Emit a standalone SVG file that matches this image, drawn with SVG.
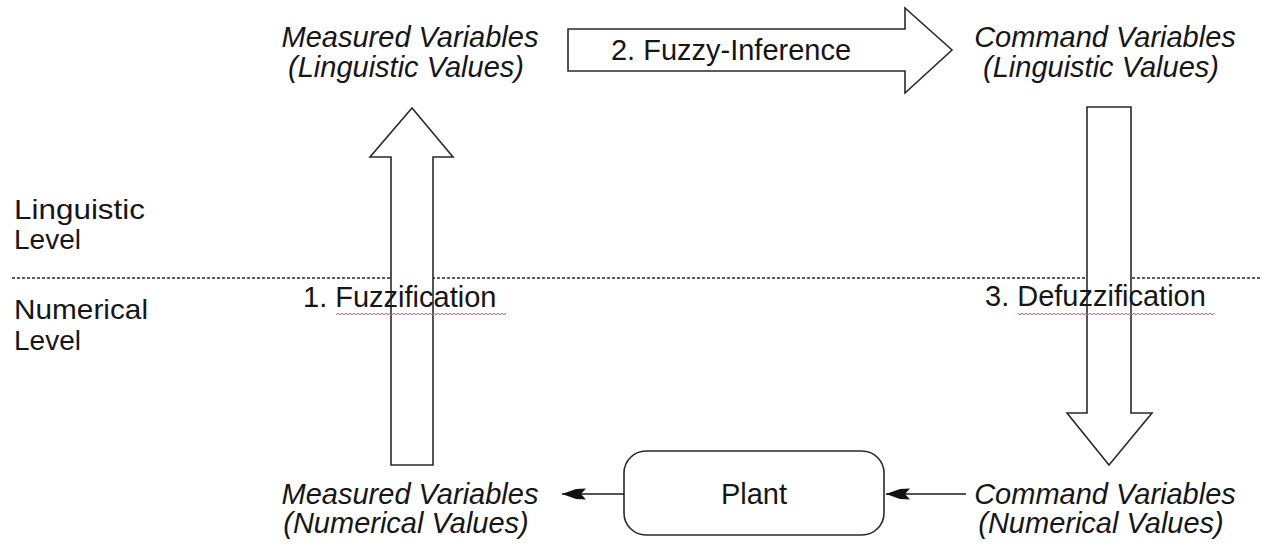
<svg xmlns="http://www.w3.org/2000/svg" width="1265" height="548" viewBox="0 0 1265 548">
<style>
  text { font-family: "Liberation Sans", Arial, sans-serif; fill: #161616; font-size: 29px; }
  .it { font-style: italic; }
  .mid { text-anchor: middle; }
  .lvl { font-size: 28px; }
  .block { fill: #ffffff; stroke: #2a2a2a; stroke-width: 1.6; stroke-linejoin: miter; }
  .conn { stroke: #1a1a1a; stroke-width: 1.6; fill: none; }
  .dash { stroke: #2a2a2a; stroke-width: 1.6; stroke-dasharray: 3 2; fill: none; }
</style>
<defs>
  <marker id="head" markerUnits="userSpaceOnUse" markerWidth="26" markerHeight="16" refX="24" refY="8" orient="auto">
    <path d="M0 2.5 L10 3 L24 8 L10 13 L0 13.5 L5 8 Z" fill="#111"/>
  </marker>
  <pattern id="wave" patternUnits="userSpaceOnUse" width="4" height="4">
    <path d="M0 3 L2 1 L4 3" stroke="#e0607a" stroke-width="1" fill="none"/>
  </pattern>
</defs>
<rect width="1265" height="548" fill="#ffffff"/>

<g id="levels">
  <line class="dash" x1="12" y1="278" x2="1262" y2="278"/>
  <text class="lvl" x="14" y="219" textLength="131" lengthAdjust="spacingAndGlyphs">Linguistic</text>
  <text class="lvl" x="14" y="249">Level</text>
  <text class="lvl" x="14" y="319" textLength="134" lengthAdjust="spacingAndGlyphs">Numerical</text>
  <text class="lvl" x="14" y="350">Level</text>
</g>

<g id="measured-linguistic">
  <text class="it mid" x="410" y="47">Measured Variables</text>
  <text class="it mid" x="406" y="77">(Linguistic Values)</text>
</g>

<g id="command-linguistic">
  <text class="it mid" x="1105" y="47">Command Variables</text>
  <text class="it mid" x="1101" y="77">(Linguistic Values)</text>
</g>

<g id="measured-numerical">
  <text class="it mid" x="410" y="504">Measured Variables</text>
  <text class="it mid" x="406" y="533">(Numerical Values)</text>
</g>

<g id="command-numerical">
  <text class="it mid" x="1105" y="504">Command Variables</text>
  <text class="it mid" x="1101" y="533">(Numerical Values)</text>
</g>

<g id="plant">
  <rect class="block" x="624" y="451" width="260" height="84" rx="22" ry="22"/>
  <text class="mid" x="754" y="504">Plant</text>
</g>

<g id="fuzzification">
  <polygon class="block" points="391,465 391,157 370,157 412,108 453,157 433,157 433,465"/>
  <text x="303" y="307">1. Fuzzification</text>
  <rect x="336" y="311" width="170" height="4" fill="url(#wave)"/>
</g>

<g id="fuzzy-inference">
  <polygon class="block" points="568,29 905,29 905,8 952,50 905,93 905,71 568,71"/>
  <text class="mid" x="731" y="60">2. Fuzzy-Inference</text>
</g>

<g id="defuzzification">
  <polygon class="block" points="1087,107 1131,107 1131,413 1152,413 1109,465 1067,413 1087,413"/>
  <text x="985" y="306">3. Defuzzification</text>
  <rect x="1018" y="311" width="196" height="4" fill="url(#wave)"/>
</g>

<g id="connectors">
  <line class="conn" x1="624" y1="494" x2="562" y2="494" marker-end="url(#head)"/>
  <line class="conn" x1="966" y1="494" x2="886" y2="494" marker-end="url(#head)"/>
</g>
</svg>
